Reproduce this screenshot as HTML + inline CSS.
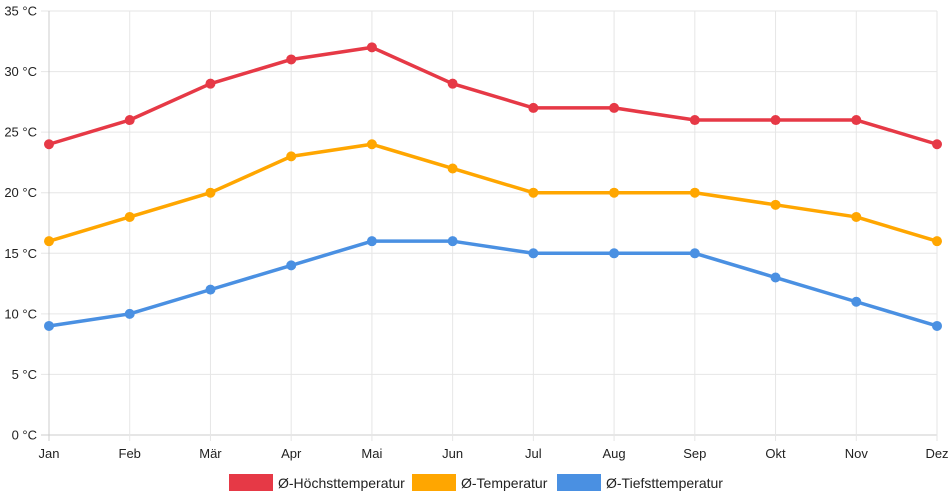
<!DOCTYPE html>
<html><head><meta charset="utf-8"><style>
body{margin:0;background:#fff;}
svg{display:block;font-family:"Liberation Sans",Arial,sans-serif;}
</style></head><body>
<svg id="chart" width="952" height="500"></svg>
<script>
const months=["Jan","Feb","Mär","Apr","Mai","Jun","Jul","Aug","Sep","Okt","Nov","Dez"];
const highTemps=[24,26,29,31,32,29,27,27,26,26,26,24];
const avgTemps=[16,18,20,23,24,22,20,20,20,19,18,16];
const lowTemps=[9,10,12,14,16,16,15,15,15,13,11,9];
const yTicks=[0,5,10,15,20,25,30,35];
const seriesNames=["Ø-Höchsttemperatur","Ø-Temperatur","Ø-Tiefsttemperatur"];
const NS="http://www.w3.org/2000/svg";
const svg=document.getElementById('chart');
const x0=49,x1=937,yTop=11,yBot=435,yMax=35;
const xs=i=>x0+i*(x1-x0)/(months.length-1);
const ys=v=>yBot-v*(yBot-yTop)/yMax;
function el(t,a,p){const e=document.createElementNS(NS,t);for(const k in a)e.setAttribute(k,a[k]);(p||svg).appendChild(e);return e;}
const grid=el('g',{});


yTicks.forEach(v=>{
  el('line',{x1:41,x2:x1,y1:ys(v),y2:ys(v),stroke:v===0?'#ccc':'#e6e6e6','stroke-width':1},grid);
  const t=el('text',{x:37,y:ys(v)+4.5,'text-anchor':'end','font-size':13,fill:'#222'});
  t.textContent=v+' °C';
  
  
});
months.forEach((m,i)=>{
  el('line',{x1:xs(i),x2:xs(i),y1:yTop,y2:yBot+6,stroke:i===0?'#ccc':'#e6e6e6','stroke-width':1},grid);
  const t=el('text',{x:xs(i),y:458,'text-anchor':'middle','font-size':13,fill:'#222'});
  t.textContent=m;
  
  
});
const colors=["#e63946","#ffa600","#4a90e2"];
[highTemps,avgTemps,lowTemps].forEach((data,s)=>{
  const g=el('g',{});
  
  
  el('polyline',{points:data.map((v,i)=>xs(i)+','+ys(v)).join(' '),fill:'none',stroke:colors[s],'stroke-width':3.5,'stroke-linejoin':'round'},g);
  data.forEach((v,i)=>{
    const c=el('circle',{cx:xs(i),cy:ys(v),r:5,fill:colors[s]},g);
    
    
  });
});
const legX=[229,412,557],legTX=[278,461,606];
seriesNames.forEach((n,s)=>{
  const g=el('g',{});
  
  
  el('rect',{x:legX[s],y:474,width:44,height:17,fill:colors[s]},g);
  const t=el('text',{x:legTX[s],y:488,'font-size':14,fill:'#222'},g);
  t.textContent=n;
});
</script>
</body></html>
